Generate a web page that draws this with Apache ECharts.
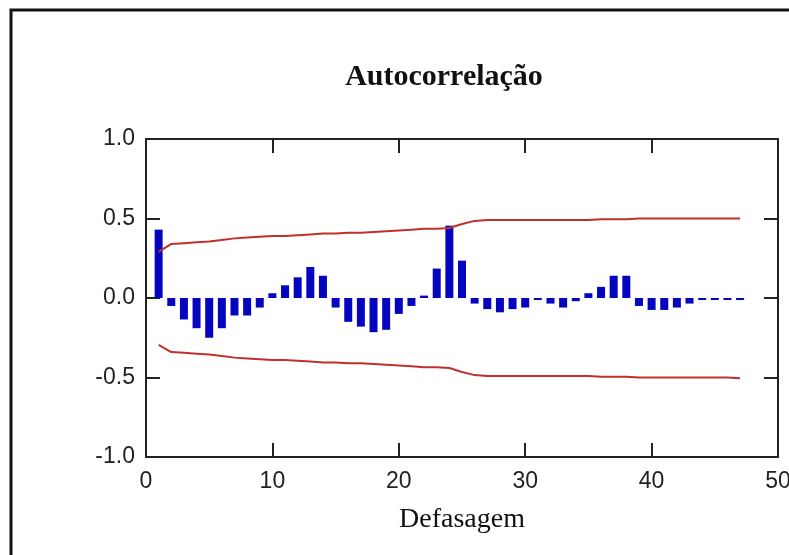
<!DOCTYPE html>
<html>
<head>
<meta charset="utf-8">
<script src="https://cdn.jsdelivr.net/npm/echarts@6/dist/echarts.min.js"></script>
<style>
    html, body { margin: 0; padding: 0; background: #fff; }
    #chart { width: 789px; height: 555px; }
</style>
</head>
<body>
<div id="chart"></div>
<script>
// defasagens 1..47
var lags = [1, 2, 3, 4, 5, 6, 7, 8, 9, 10, 11, 12, 13, 14, 15, 16, 17, 18, 19, 20, 21, 22, 23, 24,
    25, 26, 27, 28, 29, 30, 31, 32, 33, 34, 35, 36, 37, 38, 39, 40, 41, 42, 43, 44, 45, 46, 47];
var acf = [0.43, -0.05, -0.135, -0.19, -0.25, -0.19, -0.11, -0.11, -0.06, 0.03, 0.08, 0.13,
    0.195, 0.14, -0.06, -0.15, -0.18, -0.215, -0.20, -0.10, -0.05, 0.015, 0.185, 0.455,
    0.235, -0.035, -0.07, -0.09, -0.07, -0.06, -0.01, -0.035, -0.06, -0.02, 0.03, 0.07,
    0.14, 0.14, -0.05, -0.075, -0.075, -0.06, -0.035, -0.01, -0.01, -0.01, -0.008];
var upperBand = [0.29, 0.34, 0.345, 0.35, 0.355, 0.365, 0.375, 0.38, 0.385, 0.39, 0.39, 0.395,
    0.40, 0.405, 0.405, 0.41, 0.41, 0.415, 0.42, 0.425, 0.43, 0.435, 0.435, 0.44,
    0.465, 0.485, 0.49, 0.49, 0.49, 0.49, 0.49, 0.49, 0.49, 0.49, 0.49, 0.495,
    0.495, 0.495, 0.50, 0.50, 0.50, 0.50, 0.50, 0.50, 0.50, 0.50, 0.50];
var lowerBand = [-0.295, -0.34, -0.345, -0.35, -0.355, -0.365, -0.375, -0.38, -0.385, -0.39, -0.39, -0.395,
    -0.40, -0.405, -0.405, -0.41, -0.41, -0.415, -0.42, -0.425, -0.43, -0.435, -0.435, -0.44,
    -0.465, -0.485, -0.49, -0.49, -0.49, -0.49, -0.49, -0.49, -0.49, -0.49, -0.49, -0.495,
    -0.495, -0.495, -0.50, -0.50, -0.50, -0.50, -0.50, -0.50, -0.50, -0.50, -0.505];
var xTicks = [0, 10, 20, 30, 40, 50];
var yTicks = [-1.0, -0.5, 0.0, 0.5, 1.0];

var pairs = function (ys) {
    return lags.map(function (l, i) { return [l, ys[i]]; });
};

var axisCol = '#222';
var lineStyle = {show: true, onZero: false, lineStyle: {color: axisCol, width: 2}};
var tickStyle = {show: true, inside: true, length: 14, lineStyle: {color: axisCol, width: 2}};
var sansLabel = {fontFamily: 'Liberation Sans', fontSize: 23, color: '#222'};

var chart = echarts.init(document.getElementById('chart'), null, {renderer: 'canvas'});
chart.setOption({
    animation: false,
    backgroundColor: '#fff',
    title: {
        text: 'Autocorrelação',
        left: 439,
        top: 57,
        textAlign: 'center',
        textStyle: {fontFamily: 'Liberation Serif', fontWeight: 'bold', fontSize: 30, color: '#111'}
    },
    grid: {left: 146, right: 11, top: 139, bottom: 98, outerBoundsMode: 'none'},
    xAxis: [
        {
            type: 'value',
            position: 'bottom',
            min: xTicks[0],
            max: xTicks[xTicks.length - 1],
            interval: 10,
            axisLine: lineStyle,
            axisTick: tickStyle,
            splitLine: {show: false},
            axisLabel: Object.assign({margin: 13}, sansLabel),
            name: 'Defasagem',
            nameLocation: 'middle',
            nameGap: 49,
            nameTextStyle: {fontFamily: 'Liberation Serif', fontSize: 28, color: '#111'}
        },
        {
            type: 'value',
            position: 'top',
            min: 0,
            max: 50,
            interval: 10,
            axisLine: lineStyle,
            axisTick: tickStyle,
            splitLine: {show: false},
            axisLabel: {show: false}
        }
    ],
    yAxis: [
        {
            type: 'value',
            position: 'left',
            min: yTicks[0],
            max: yTicks[yTicks.length - 1],
            interval: 0.5,
            axisLine: lineStyle,
            axisTick: tickStyle,
            splitLine: {show: false},
            axisLabel: Object.assign({
                margin: 11,
                formatter: function (v) { return v.toFixed(1); }
            }, sansLabel)
        },
        {
            type: 'value',
            position: 'right',
            min: -1,
            max: 1,
            interval: 0.5,
            axisLine: lineStyle,
            axisTick: tickStyle,
            splitLine: {show: false},
            axisLabel: {show: false}
        }
    ],
    graphic: [
        {
            type: 'rect',
            shape: {x: 11, y: 10, width: 900, height: 700},
            style: {fill: null, stroke: '#111', lineWidth: 3},
            silent: true
        }
    ],
    series: [
        {
            type: 'bar',
            data: pairs(acf),
            barWidth: 8,
            barMinHeight: 2,
            itemStyle: {color: '#0505c0'}
        },
        {
            type: 'line',
            data: pairs(upperBand),
            symbol: 'none',
            lineStyle: {color: '#c0302c', width: 2}
        },
        {
            type: 'line',
            data: pairs(lowerBand),
            symbol: 'none',
            lineStyle: {color: '#c0302c', width: 2}
        }
    ]
});
</script>
</body>
</html>
